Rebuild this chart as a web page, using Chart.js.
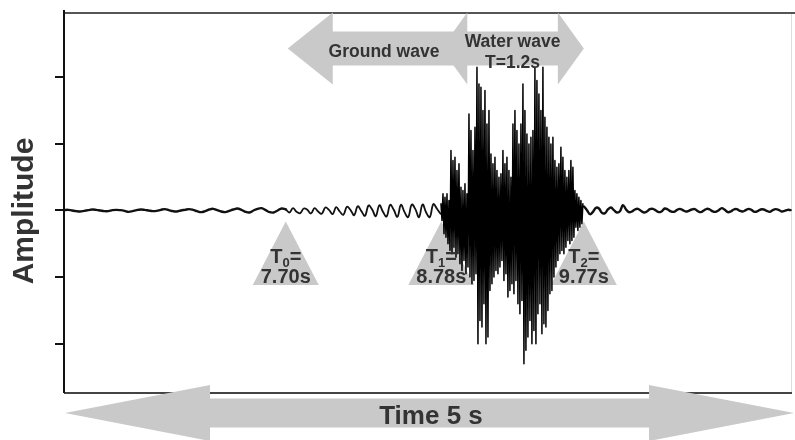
<!DOCTYPE html>
<html><head><meta charset="utf-8">
<script src="https://cdn.jsdelivr.net/npm/chart.js@4/dist/chart.umd.min.js"></script>
<style>html,body{margin:0;padding:0;background:#fff;}#wrap{width:795px;height:440px;}</style>
</head><body><div id="wrap"><canvas id="c" width="795" height="440"></canvas></div>
<script>
// ---- data (time in s, amplitude in arbitrary units; ticks every 20 units) ----
const xRange = [6.16, 11.2156];
const yRange = [-54.8, 59.6];
const yTicks = [-40, -20, 0, 20, 40];

const noiseStart = 6.16, noiseStep = 0.028;
const noiseValues = [0.1,0.2,0.0,-0.2,-0.3,-0.1,0.1,0.3,0.2,0.0,
  -0.2,-0.2,0.1,0.2,0.1,-0.1,-0.4,-0.2,0.1,0.3,
  0.2,0.0,-0.2,-0.1,0.2,0.4,0.1,-0.2,-0.3,0.0,
  0.2,0.4,0.2,-0.2,-0.5,-0.2,0.3,0.5,0.1,-0.3,
  -0.5,-0.1,0.3,0.6,0.2,-0.4,-0.6,0.0,0.5,0.7,
  0.1,-0.5,-0.6,0.0,0.6,0.3];

const groundStart = 7.70, groundStep = 0.025;
const groundValues = [0.4,-0.6,0.7,-0.4,-0.8,0.6,0.2,-0.9,0.7,-0.3,
  -1.0,0.9,0.2,-1.1,1.0,-0.3,-1.3,1.1,0.1,-1.4,
  1.3,-0.2,-1.6,1.5,0.3,-1.7,1.6,-0.4,-1.8,1.7,
  0.2,-1.9,1.7,-0.5,-2.0,1.8,0.4,-2.0,1.8,-0.6,
  -2.0,1.9,0.5,-1.0];

const waterStart = 8.778, waterStep = 0.00694;
const waterValues = [2,-3,5,-7,4,-8,5,-10,3,-12,
  18,-13,15,-11,16,-14,12,-13,14,-16,
  7,-18,6,-15,8,-19,5,-17,29,-20,
  24,-22,18,-21,25,-19,43,-40,38,-33,
  37,-35,30,-28,36,-40,26,-38,30,-24,
  17,-22,14,-20,16,-18,12,-19,10,-17,
  11,-15,18,-21,14,-19,16,-26,12,-24,
  10,-22,26,-25,30,-21,24,-28,20,-31,
  26,-27,38,-46,30,-42,23,-38,20,-33,
  22,-40,24,-36,43,-40,39,-31,35,-28,
  30,-37,43,-34,28,-35,25,-30,22,-25,
  20,-24,22,-20,15,-17,13,-15,14,-13,
  19,-12,16,-13,12,-11,10,-9,12,-10,
  15,-9,13,-8,6,-5,5,-6,4,-5,
  3,-4,2];

const codaStart = 9.771, codaStep = 0.0208;
const codaValues = [1.2,0.1,-1.1,-0.4,0.8,0.6,-0.7,-0.8,0.3,0.9,
  0.1,-0.6,-0.2,1.6,0.4,-0.5,-0.3,0.3,0.5,-0.1,
  -0.6,-0.3,0.4,0.5,0.0,-0.5,-0.2,0.6,0.3,-0.3,
  -0.4,0.1,0.5,0.1,-0.3,-0.1,0.3,0.4,-0.2,-0.5,
  0.0,0.5,0.3,-0.3,-0.4,0.1,0.7,0.2,-0.5,-0.3,
  0.3,0.4,-0.1,-0.3,0.1,0.5,0.1,-0.4,-0.2,0.3,
  0.3,-0.1,-0.4,0.1,0.4,0.2,-0.3,-0.1,0.2,0.1];

const arrivalTimes = [7.70, 8.78, 9.77];
const arrivalSubs = ["0", "1", "2"];
const arrivalLabels = ["7.70s", "8.78s", "9.77s"];
const waveLabels = ["Ground wave", "Water wave", "T=1.2s"];
const xLabel = "Time 5 s";
const yLabel = "Amplitude";

// ---- helpers ----
function series(start, step, vals){ return vals.map((v,i)=>({x:start+i*step, y:v})); }

function arrowPath(ctx, x1, x2, yc, headLen, headHalf, shaftHalf, leftHead, rightHead){
  const lb = leftHead ? x1 + headLen : x1;
  const rb = rightHead ? x2 - headLen : x2;
  ctx.beginPath();
  if (leftHead){ ctx.moveTo(x1, yc); ctx.lineTo(lb, yc-headHalf); ctx.lineTo(lb, yc-shaftHalf); }
  else { ctx.moveTo(x1, yc-shaftHalf); }
  if (rightHead){ ctx.lineTo(rb, yc-shaftHalf); ctx.lineTo(rb, yc-headHalf); ctx.lineTo(x2, yc); ctx.lineTo(rb, yc+headHalf); ctx.lineTo(rb, yc+shaftHalf); }
  else { ctx.lineTo(x2, yc-shaftHalf); ctx.lineTo(x2, yc+shaftHalf); }
  if (leftHead){ ctx.lineTo(lb, yc+shaftHalf); ctx.lineTo(lb, yc+headHalf); }
  else { ctx.lineTo(x1, yc+shaftHalf); }
  ctx.closePath();
  ctx.fill();
}

const FONT = '"Liberation Sans", Arial, Helvetica, sans-serif';
const GRAY = '#c9c9c9';
const TEXT = '#333333';

function subLabel(ctx, cx, baseline, sub){
  ctx.font = 'bold 20px ' + FONT;
  const w1 = ctx.measureText('T').width, w3 = ctx.measureText('=').width;
  ctx.font = 'bold 13px ' + FONT;
  const w2 = ctx.measureText(sub).width;
  let x = cx - (w1+w2+w3)/2;
  ctx.textAlign = 'left';
  ctx.font = 'bold 20px ' + FONT; ctx.fillText('T', x, baseline);
  ctx.font = 'bold 13px ' + FONT; ctx.fillText(sub, x+w1, baseline+4);
  ctx.font = 'bold 20px ' + FONT; ctx.fillText('=', x+w1+w2, baseline);
}

const deco = {
  id: 'deco',
  beforeDatasetsDraw(chart){
    const {ctx, chartArea:a, scales:{x, y}} = chart;
    ctx.save();
    // frame
    ctx.strokeStyle = '#dddddd'; ctx.lineWidth = 1;
    ctx.beginPath(); ctx.moveTo(a.right-0.5, a.top); ctx.lineTo(a.right-0.5, a.bottom); ctx.stroke();
    ctx.strokeStyle = '#555555'; ctx.lineWidth = 2;
    ctx.beginPath(); ctx.moveTo(a.left, a.top+1); ctx.lineTo(chart.width, a.top+1); ctx.stroke();
    ctx.strokeStyle = '#444444';
    ctx.beginPath(); ctx.moveTo(a.left, a.bottom); ctx.lineTo(a.right, a.bottom); ctx.stroke();
    ctx.strokeStyle = '#111111'; ctx.lineWidth = 2;
    ctx.beginPath(); ctx.moveTo(a.left, a.top-2); ctx.lineTo(a.left, a.bottom); ctx.stroke();
    yTicks.forEach(v => {
      const py = Math.round(y.getPixelForValue(v));
      ctx.beginPath(); ctx.moveTo(a.left-9, py); ctx.lineTo(a.left, py); ctx.stroke();
    });
    // top arrows
    ctx.fillStyle = GRAY;
    const p0 = x.getPixelForValue(arrivalTimes[0]);
    const p1 = x.getPixelForValue(arrivalTimes[1]);
    const p2 = x.getPixelForValue(arrivalTimes[2]);
    arrowPath(ctx, p0+2, p1+20, 48.5, 45, 36, 17, true, false);
    arrowPath(ctx, p1, p2, 48.5, 26, 36, 17, true, true);
    // triangles
    arrivalTimes.forEach(t => {
      const px = x.getPixelForValue(t);
      ctx.beginPath(); ctx.moveTo(px, 221.5); ctx.lineTo(px+33, 285); ctx.lineTo(px-33, 285); ctx.closePath(); ctx.fill();
    });
    ctx.restore();
  },
  afterDatasetsDraw(chart){
    const {ctx, chartArea:a, scales:{x}} = chart;
    ctx.save();
    ctx.fillStyle = TEXT;
    ctx.textBaseline = 'alphabetic';
    // triangle labels
    arrivalTimes.forEach((t,i) => {
      const px = x.getPixelForValue(t);
      subLabel(ctx, px, 263, arrivalSubs[i]);
      ctx.textAlign = 'center';
      ctx.font = 'bold 20px ' + FONT;
      ctx.fillText(arrivalLabels[i], px, 283);
    });
    // arrow labels
    const p1 = x.getPixelForValue(arrivalTimes[1]);
    const p2 = x.getPixelForValue(arrivalTimes[2]);
    ctx.textAlign = 'center';
    ctx.font = 'bold 17.5px ' + FONT;
    ctx.fillText(waveLabels[0], 384, 57);
    ctx.fillText(waveLabels[1], (p1+p2)/2, 46.5);
    ctx.fillText(waveLabels[2], (p1+p2)/2, 67.5);
    // bottom arrow
    ctx.fillStyle = GRAY;
    arrowPath(ctx, a.left+1, chart.width-1, 413, 145, 28, 14.5, true, true);
    ctx.fillStyle = TEXT;
    ctx.font = 'bold 26px ' + FONT;
    ctx.fillText(xLabel, 431, 424);
    // y title
    ctx.translate(33, 211);
    ctx.rotate(-Math.PI/2);
    ctx.font = 'bold 30px ' + FONT;
    ctx.fillText(yLabel, 0, 0);
    ctx.restore();
  }
};

new Chart(document.getElementById('c'), {
  type: 'line',
  data: { datasets: [
    { data: series(noiseStart, noiseStep, noiseValues), borderColor:'#111', borderWidth:2.4, tension:0.4 },
    { data: series(groundStart, groundStep, groundValues), borderColor:'#111', borderWidth:1.8, tension:0.4 },
    { data: series(waterStart, waterStep, waterValues), borderColor:'#000', borderWidth:1.5, tension:0 },
    { data: series(codaStart, codaStep, codaValues), borderColor:'#111', borderWidth:2.4, tension:0.4 }
  ]},
  options: {
    responsive:false, animation:false, devicePixelRatio:1,
    layout:{ padding:{ left:64, top:12, right:3, bottom:47 } },
    plugins:{ legend:{display:false}, tooltip:{enabled:false} },
    elements:{ point:{radius:0}, line:{fill:false, borderJoinStyle:'round', borderCapStyle:'round'} },
    scales:{
      x:{ type:'linear', min:xRange[0], max:xRange[1], display:false },
      y:{ type:'linear', min:yRange[0], max:yRange[1], display:false }
    }
  },
  plugins:[deco]
});
</script></body></html>
